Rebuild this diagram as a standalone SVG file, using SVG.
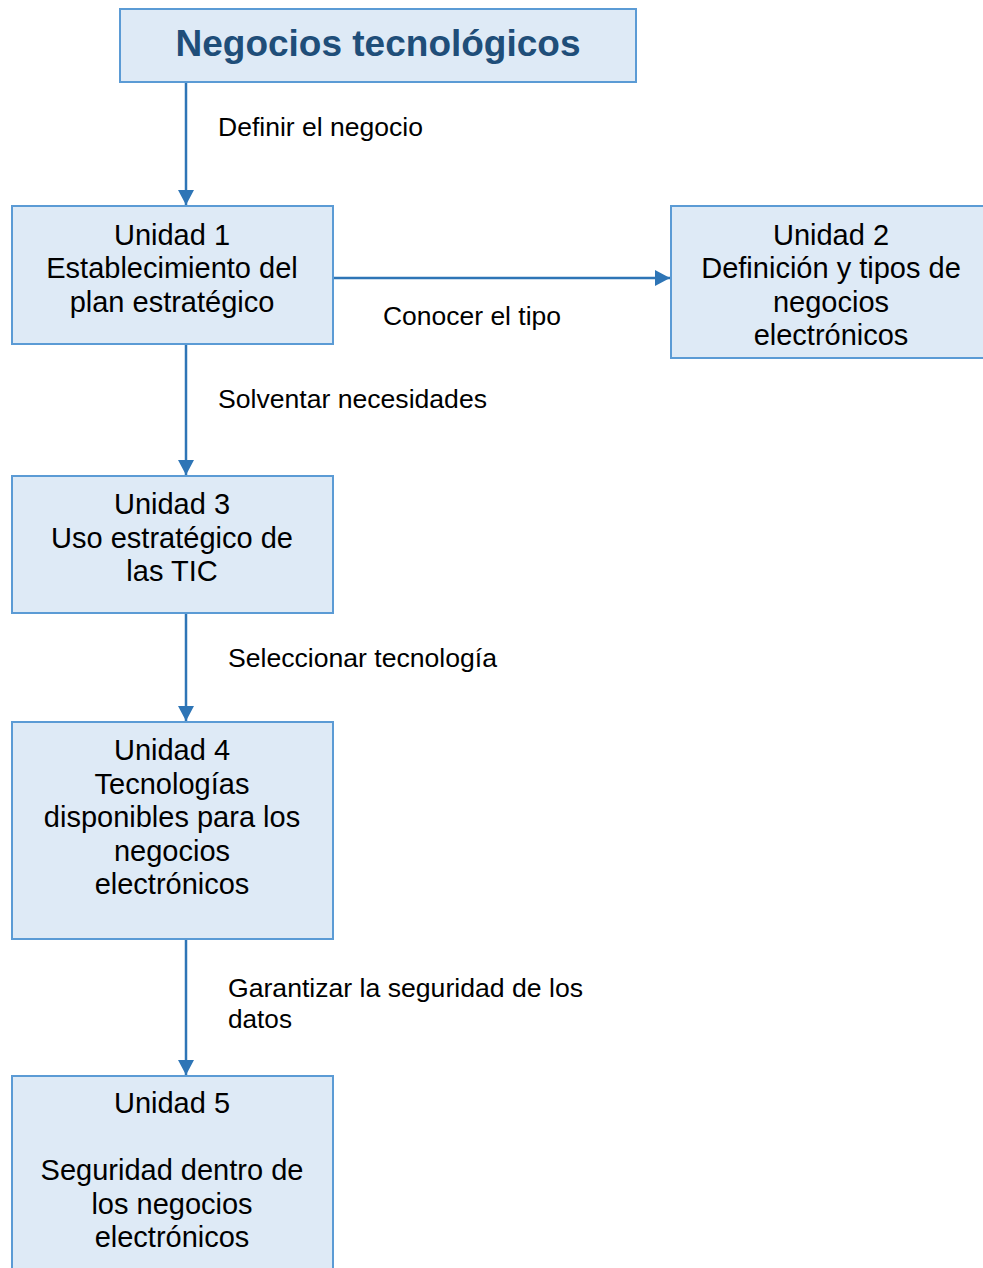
<svg xmlns="http://www.w3.org/2000/svg" width="983" height="1268" viewBox="0 0 983 1268">
<defs>
<style>
.box{fill:#deeaf6;stroke:#5b9bd5;stroke-width:2}
.t{font-family:"Liberation Sans",Arial,sans-serif;font-size:29px;fill:#000;text-anchor:middle}
.title{font-family:"Liberation Sans",Arial,sans-serif;font-size:37px;font-weight:bold;fill:#1f4e79;text-anchor:middle}
.lbl{font-family:"Liberation Sans",Arial,sans-serif;font-size:25.5px;fill:#000}
.c{stroke:#2e75b6;stroke-width:2.5;fill:none;marker-end:url(#ah)}
</style>
<marker id="ah" markerWidth="15" markerHeight="16" refX="15" refY="8" orient="auto" markerUnits="userSpaceOnUse">
<path d="M0,0 L15,8 L0,16 Z" fill="#2e75b6"/>
</marker>
</defs>
<rect width="983" height="1268" fill="#fff"/>
<g id="connectors">
<line class="c" x1="186" y1="83" x2="186" y2="205"/>
<line class="c" x1="334" y1="278" x2="670" y2="278"/>
<line class="c" x1="186" y1="345" x2="186" y2="475"/>
<line class="c" x1="186" y1="614" x2="186" y2="721"/>
<line class="c" x1="186" y1="940" x2="186" y2="1075"/>
<text class="lbl" x="218" y="136" textLength="205" lengthAdjust="spacingAndGlyphs">Definir el negocio</text>
<text class="lbl" x="383" y="325" textLength="178" lengthAdjust="spacingAndGlyphs">Conocer el tipo</text>
<text class="lbl" x="218" y="408" textLength="269" lengthAdjust="spacingAndGlyphs">Solventar necesidades</text>
<text class="lbl" x="228" y="667" textLength="269" lengthAdjust="spacingAndGlyphs">Seleccionar tecnología</text>
<text class="lbl" x="228" y="997" textLength="355" lengthAdjust="spacingAndGlyphs">Garantizar la seguridad de los</text>
<text class="lbl" x="228" y="1028" textLength="64" lengthAdjust="spacingAndGlyphs">datos</text>
</g>
<g id="title">
<rect class="box" x="120" y="9" width="516" height="73"/>
<text class="title" x="378" y="56">Negocios tecnológicos</text>
</g>
<g id="unidad1">
<rect class="box" x="12" y="206" width="321" height="138"/>
<text class="t" x="172" y="245">Unidad 1</text>
<text class="t" x="172" y="278">Establecimiento del</text>
<text class="t" x="172" y="312">plan estratégico</text>
</g>
<g id="unidad2">
<rect class="box" x="671" y="206" width="320" height="152"/>
<text class="t" x="831" y="245">Unidad 2</text>
<text class="t" x="831" y="278">Definición y tipos de</text>
<text class="t" x="831" y="312">negocios</text>
<text class="t" x="831" y="345">electrónicos</text>
</g>
<g id="unidad3">
<rect class="box" x="12" y="476" width="321" height="137"/>
<text class="t" x="172" y="514">Unidad 3</text>
<text class="t" x="172" y="548">Uso estratégico de</text>
<text class="t" x="172" y="581">las TIC</text>
</g>
<g id="unidad4">
<rect class="box" x="12" y="722" width="321" height="217"/>
<text class="t" x="172" y="760">Unidad 4</text>
<text class="t" x="172" y="794">Tecnologías</text>
<text class="t" x="172" y="827">disponibles para los</text>
<text class="t" x="172" y="861">negocios</text>
<text class="t" x="172" y="894">electrónicos</text>
</g>
<g id="unidad5">
<rect class="box" x="12" y="1076" width="321" height="210"/>
<text class="t" x="172" y="1113">Unidad 5</text>
<text class="t" x="172" y="1180">Seguridad dentro de</text>
<text class="t" x="172" y="1214">los negocios</text>
<text class="t" x="172" y="1247">electrónicos</text>
</g>
</svg>
